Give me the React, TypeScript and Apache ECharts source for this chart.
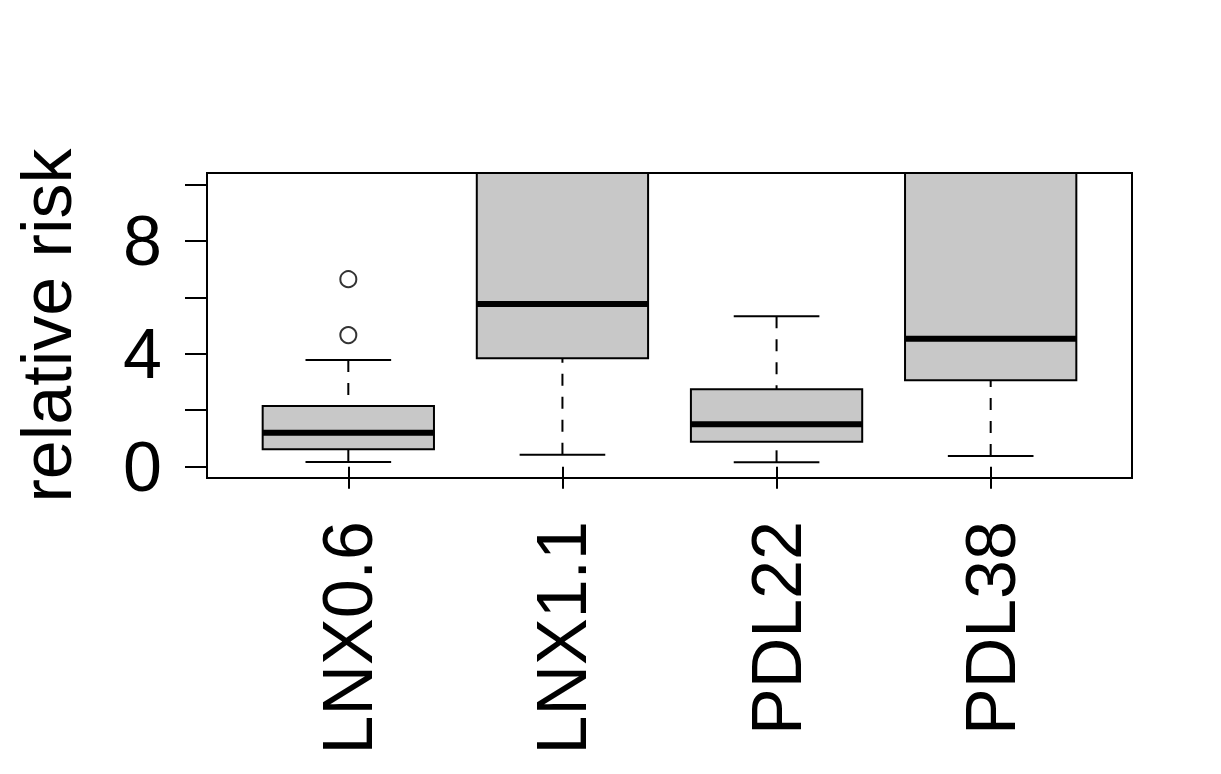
import React, { useEffect, useRef } from "react";
import * as echarts from "echarts";

const categories = ["LNX0.6", "LNX1.1", "PDL22", "PDL38"];
const lowerWhisker = [0.17, 0.42, 0.155, 0.38];
const q1 = [0.62, 3.84, 0.885, 3.06];
const median = [1.2, 5.76, 1.5, 4.53];
const q3 = [2.15, 12.5, 2.74, 12.0];
const upperWhisker = [3.78, 22, 5.33, 24];
const outlierGroup = [0, 0];
const outlierValue = [4.66, 6.64];
const yTickValues = [0, 2, 4, 6, 8, 10];
const yLabelValues = [0, 4, 8];
const xPositions = [1, 2, 3, 4];

const FONT = "'Liberation Sans', Arial, sans-serif";

export default function App() {
  const ref = useRef<HTMLDivElement>(null);
  useEffect(() => {
    if (!ref.current) return;
    const chart = echarts.init(ref.current, null, { renderer: "svg" });
    const boxData = categories.map((_, i) => [
      i + 1,
      lowerWhisker[i],
      q1[i],
      median[i],
      q3[i],
      upperWhisker[i],
    ]);
    const outlierData = outlierGroup.map((g, i) => [g + 1, outlierValue[i]]);

    const renderItem = (params: any, api: any) => {
      const x = api.value(0);
      const cs = params.coordSys;
      const top = cs.y;
      const bottom = cs.y + cs.height;
      const clamp = (y: number) => Math.max(top, Math.min(bottom, y));
      const yLo = api.coord([x, api.value(1)])[1];
      const yQ1 = api.coord([x, api.value(2)])[1];
      const yMed = api.coord([x, api.value(3)])[1];
      const yQ3 = api.coord([x, api.value(4)])[1];
      const yHi = api.coord([x, api.value(5)])[1];
      const cx = api.coord([x, 0])[0];
      const half = api.size([0.4, 0])[0];
      const capHalf = half / 2;
      const children: any[] = [];
      const dashed = { stroke: "#000", lineWidth: 2, lineDash: [12, 11] };
      const solid = { stroke: "#000", lineWidth: 2 };
      if (yLo >= top && yLo <= bottom) {
        children.push({
          type: "line",
          shape: { x1: cx, y1: yLo, x2: cx, y2: clamp(yQ1) },
          style: dashed,
        });
        children.push({
          type: "line",
          shape: { x1: cx - capHalf, y1: yLo, x2: cx + capHalf, y2: yLo },
          style: solid,
        });
      }
      if (yHi >= top && yHi <= bottom) {
        children.push({
          type: "line",
          shape: { x1: cx, y1: yHi, x2: cx, y2: clamp(yQ3) },
          style: dashed,
        });
        children.push({
          type: "line",
          shape: { x1: cx - capHalf, y1: yHi, x2: cx + capHalf, y2: yHi },
          style: solid,
        });
      }
      const bTop = clamp(yQ3);
      const bBot = clamp(yQ1);
      children.push({
        type: "rect",
        shape: { x: cx - half, y: bTop, width: 2 * half, height: bBot - bTop },
        style: { fill: "#c8c8c8", stroke: "#000", lineWidth: 2 },
      });
      if (yMed >= top && yMed <= bottom) {
        children.push({
          type: "line",
          shape: { x1: cx - half, y1: yMed, x2: cx + half, y2: yMed },
          style: { stroke: "#000", lineWidth: 6, lineCap: "butt" },
        });
      }
      return { type: "group", children };
    };

    chart.setOption({
      animation: false,
      backgroundColor: "#fff",
      textStyle: { fontFamily: FONT },
      grid: {
        left: 207,
        right: 89,
        top: 173,
        bottom: 296,
        show: true,
        borderColor: "#000",
        borderWidth: 2,
        backgroundColor: "transparent",
      },
      xAxis: {
        type: "value",
        min: 0.34,
        max: 4.66,
        axisLine: { show: false },
        splitLine: { show: false },
        axisTick: {
          show: true,
          length: 22,
          customValues: xPositions,
          lineStyle: { color: "#000", width: 2 },
        },
        axisLabel: {
          customValues: xPositions,
          rotate: 90,
          margin: 43,
          fontSize: 70,
          color: "#000",
          fontFamily: FONT,
          formatter: (v: number) => categories[Math.round(v) - 1] ?? "",
        },
      },
      yAxis: {
        type: "value",
        min: -0.4,
        max: 10.4,
        name: "relative risk",
        nameLocation: "middle",
        nameGap: 125,
        nameTextStyle: { fontSize: 70, color: "#000", fontFamily: FONT },
        axisLine: { show: false },
        splitLine: { show: false },
        axisTick: {
          show: true,
          length: 22,
          customValues: yTickValues,
          lineStyle: { color: "#000", width: 2 },
        },
        axisLabel: {
          customValues: yLabelValues,
          margin: 45,
          fontSize: 70,
          color: "#000",
          fontFamily: FONT,
        },
      },
      series: [
        {
          type: "custom",
          renderItem,
          data: boxData,
          encode: { x: 0, y: [1, 2, 3, 4, 5] },
          z: 2,
        },
        {
          type: "scatter",
          data: outlierData,
          symbol: "circle",
          symbolSize: 16,
          itemStyle: { color: "#fff", borderColor: "#000", borderWidth: 2 },
          z: 3,
        },
      ],
    });
    return () => chart.dispose();
  }, []);
  return (
    <div
      ref={ref}
      style={{ position: "absolute", left: 0, top: 0, width: 1221, height: 774 }}
    />
  );
}
